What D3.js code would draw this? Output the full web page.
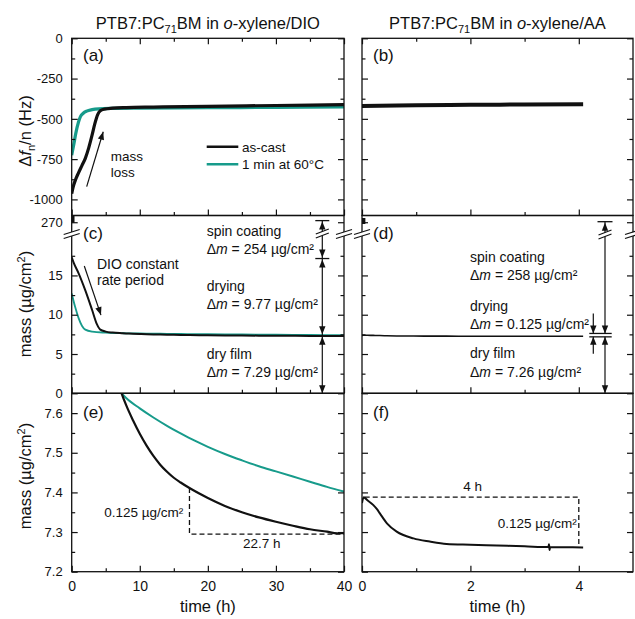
<!DOCTYPE html>
<html><head><meta charset="utf-8">
<script src="https://cdn.jsdelivr.net/npm/d3@7"></script>
<style>
body{margin:0;background:#fff}
text{font-family:"Liberation Sans",Arial,Helvetica,sans-serif;fill:#111}
</style></head>
<body><svg id="chart" width="635" height="619"></svg>
<script>
// ---------------- DATA ----------------
// (a) QCM frequency shift, DIO system (t in h, Δf/n in Hz)
const qcmDioAsCast = [[0,-965],[0.2,-925],[0.5,-885],[1,-835],[1.5,-790],[2,-745],[2.5,-680],[3,-600],[3.4,-530],[3.8,-475],[4.2,-450],[4.8,-440],[6,-434],[8,-430],[12,-427],[20,-422],[30,-417],[40,-412]];
const qcmDio60C = [[0,-725],[0.3,-660],[0.6,-590],[1,-520],[1.3,-485],[1.7,-465],[2.2,-452],[3,-443],[4,-438],[6,-435],[10,-433],[20,-431],[30,-429],[40,-426]];
// (b) QCM frequency shift, AA system
const qcmAA = [[0,-420],[1,-416],[2,-413],[3,-411],[4.08,-409]];
// (c)/(e) mass, DIO system (µg/cm²)
const massDioAsCast = [[0,17.3],[0.3,16.6],[1,15.3],[2,13.1],[3,10.6],[3.7,8.8],[4.2,8.1],[5,7.85],[6,7.73],[7.33,7.65],[8,7.62],[9,7.582],[10,7.548],[11,7.518],[12,7.492],[13,7.47],[14,7.452],[15,7.437],[16,7.425],[17.3,7.411],[20,7.386],[22.5,7.366],[25,7.35],[27.5,7.337],[30,7.326],[32.5,7.316],[35,7.307],[37.5,7.301],[39,7.297],[40,7.297]];
const massDio60C = [[0,12.7],[0.5,11.0],[1,9.6],[1.5,8.6],[2,8.1],[3,7.85],[5,7.72],[7.33,7.65],[8,7.638],[10,7.612],[12,7.589],[14,7.568],[16,7.549],[18,7.531],[20,7.515],[22.5,7.497],[25,7.481],[27.5,7.466],[30,7.453],[32.5,7.44],[35,7.427],[37.5,7.414],[40,7.402]];
const spinDio = [[0.12,269.8],[0.12,272.4]];
// (d)/(f) mass, AA system
const massAA = [[0,7.373],[0.03,7.388],[0.1,7.38],[0.21,7.368],[0.28,7.357],[0.33,7.347],[0.46,7.322],[0.64,7.301],[0.95,7.284],[1.25,7.276],[1.56,7.27],[2,7.268],[2.49,7.266],[3,7.264],[3.44,7.262],[3.45,7.269],[3.46,7.255],[3.47,7.262],[4.08,7.261]];
const spinAA = [[0.03,269.3],[0.03,271.6]];
// annotation values
const dioSpinTop = 270.6, dioDryStart = 17.15, dioDryFilm = 7.4;
const aaSpinTop = 270.2, aaDryFilm = 7.4;
const dioDashV = [[17.3,7.411],[17.3,7.295],[40,7.295]];
const aaDash = [[0.05,7.388],[4.0,7.388],[4.0,7.261]];
// ticks
const yTicksA = [-1000,-750,-500,-250,0], yMinorA = [-875,-625,-375,-125];
const yTicksC = [0,5,10,15,270], yMinorC = [2.5,7.5,12.5,17.5];
const yTicksE = [7.2,7.3,7.4,7.5,7.6], yMinorE = [7.25,7.35,7.45,7.55];
const xTicksL = [0,10,20,30,40], xMinorL = [5,15,25,35];
const xTicksR = [0,2,4], xMinorR = [1,3];
const titles = ["o-xylene/DIO","o-xylene/AA"];

// ---------------- LAYOUT ----------------
const svg = d3.select("#chart");
const L = {x0:71.7, x1:344}, R = {x0:362, x1:633};
const rowA = {y0:38.3, y1:215.5}, rowC = {y0:215.5, y1:393.3}, rowE = {y0:393.3, y1:571.7};
const breakY = 233;
const teal = "#179b8b";
const FONT = '"Liberation Sans",Arial,Helvetica,sans-serif';

const xL = d3.scaleLinear().domain([0,40]).range([L.x0,L.x1]);
const xR = d3.scaleLinear().domain([0,5]).range([R.x0,R.x1]);
const yA = d3.scaleLinear().domain([-1100,0]).range([rowA.y1,rowA.y0]);
const yC = d3.scaleLinear().domain([0,20.4,266,272.5]).range([rowC.y1,breakY,breakY,rowC.y0]);
const yE = d3.scaleLinear().domain([7.2,7.65]).range([rowE.y1,rowE.y0]);

let clipId = 0;
function panel(x, y, col, row, yTicks, yMinor, yFmt, xTicks, xMinor){
  const id = "clip"+(clipId++);
  const [px0,px1] = x.range(); const py1 = y.range()[0], py0 = y.range()[y.range().length-1];
  svg.append("clipPath").attr("id",id).append("rect")
    .attr("x",px0).attr("y",py0).attr("width",px1-px0).attr("height",py1-py0);
  const g = svg.append("g").attr("clip-path",`url(#${id})`);
  const ax = svg.append("g").attr("class","axes");
  function addAxis(axisGen, tx, ty, vals, size, fmt){
    const a = ax.append("g").attr("transform",`translate(${tx},${ty})`)
      .call(axisGen.tickValues(vals).tickSizeInner(size).tickSizeOuter(0).tickPadding(9).tickFormat(fmt));
    a.select(".domain").remove();
    a.attr("font-size",13).attr("font-family",FONT);
    a.selectAll("line").attr("stroke","#111").attr("stroke-width",1.2);
    a.selectAll("text").attr("fill","#222");
    return a;
  }
  const none = () => "";
  addAxis(d3.axisLeft(y), px0, 0, yTicks, -6, col===0 ? yFmt : none);
  addAxis(d3.axisLeft(y), px0, 0, yMinor, -3.5, none);
  addAxis(d3.axisRight(y), px1, 0, yTicks, -6, none);
  addAxis(d3.axisRight(y), px1, 0, yMinor, -3.5, none);
  const bt = addAxis(d3.axisBottom(x), 0, py1, xTicks, -6, row===2 ? (d=>String(d)) : none);
  bt.selectAll("text").attr("font-size",14);
  addAxis(d3.axisBottom(x), 0, py1, xMinor, -3.5, none);
  if(row===0){
    addAxis(d3.axisTop(x), 0, py0, xTicks, -6, none);
    addAxis(d3.axisTop(x), 0, py0, xMinor, -3.5, none);
  }
  ax.append("rect").attr("x",px0).attr("y",py0).attr("width",px1-px0).attr("height",py1-py0)
    .attr("fill","none").attr("stroke","#111").attr("stroke-width",1.3);
  return g;
}
function line(g, x, y, data, color, w, dash, smooth){
  g.append("path").datum(data)
    .attr("d", d3.line().x(d=>x(d[0])).y(d=>y(d[1])).curve(smooth ? d3.curveMonotoneX : d3.curveLinear))
    .attr("fill","none").attr("stroke",color).attr("stroke-width",w)
    .attr("stroke-linejoin","round").attr("stroke-dasharray",dash||null);
}
const fmtInt = d => String(d);
const fmt1 = d3.format(".1f");

const gA = panel(xL, yA, 0, 0, yTicksA, yMinorA, fmtInt, xTicksL, xMinorL);
const gB = panel(xR, yA, 1, 0, yTicksA, yMinorA, fmtInt, xTicksR, xMinorR);
const gC = panel(xL, yC, 0, 1, yTicksC, yMinorC, fmtInt, xTicksL, xMinorL);
const gD = panel(xR, yC, 1, 1, yTicksC, yMinorC, fmtInt, xTicksR, xMinorR);
const gE = panel(xL, yE, 0, 2, yTicksE, yMinorE, fmt1, xTicksL, xMinorL);
const gF = panel(xR, yE, 1, 2, yTicksE, yMinorE, fmt1, xTicksR, xMinorR);

// series
line(gA, xL, yA, qcmDio60C, teal, 3.2, null, true);
line(gA, xL, yA, qcmDioAsCast, "#111", 3.2, null, true);
line(gB, xR, yA, qcmAA, "#111", 4, null, true);
line(gC, xL, yC, massDio60C, teal, 1.8, null, true);
line(gC, xL, yC, massDioAsCast, "#111", 2, null, true);
line(gC, xL, yC, spinDio, "#111", 4);
line(gD, xR, yC, massAA, "#111", 1.6, null, true);
line(gD, xR, yC, spinAA, "#111", 3.5);
line(gE, xL, yE, massDio60C, teal, 2, null, true);
line(gE, xL, yE, massDioAsCast, "#111", 2.2, null, true);
line(gE, xL, yE, dioDashV, "#111", 1.3, "5,3");
line(gF, xR, yE, massAA, "#111", 2, null, true);
line(gF, xR, yE, aaDash, "#111", 1.3, "5,3");

// ---------- helpers for annotations ----------
const ann = svg.append("g");
function seg(x1,y1,x2,y2,w){ ann.append("line").attr("x1",x1).attr("y1",y1).attr("x2",x2).attr("y2",y2).attr("stroke","#111").attr("stroke-width",w||1.2); }
function head(x,y,dir,len,wid){ // tip at (x,y)
  len = len||8; wid = wid||3.2; const s = dir==="up"?1:-1;
  ann.append("path").attr("d",`M${x},${y}L${x-wid},${y+s*len}L${x+wid},${y+s*len}Z`).attr("fill","#111");
}
function arrowTo(x1,y1,x2,y2){
  seg(x1,y1,x2,y2,1.2);
  const a = Math.atan2(y2-y1,x2-x1), l=8, w=3.2;
  const bx = x2-l*Math.cos(a), by = y2-l*Math.sin(a);
  const nx = -Math.sin(a)*w, ny = Math.cos(a)*w;
  ann.append("path").attr("d",`M${x2},${y2}L${bx+nx},${by+ny}L${bx-nx},${by-ny}Z`).attr("fill","#111");
}
function brk(x, y, hw){
  hw = hw||8;
  ann.append("path").attr("d",`M${x-hw},${y+1}L${x+hw},${y-4}L${x+hw},${y}L${x-hw},${y+5}Z`).attr("fill","#fff");
  seg(x-hw,y+1,x+hw,y-4,1.2);
  seg(x-hw,y+5,x+hw,y,1.2);
}
function txt(x,y,parts,size,anchor){
  const t = svg.append("text").attr("x",x).attr("y",y).attr("font-size",size).attr("text-anchor",anchor||"start");
  parts.forEach(p=>{
    const s = t.append("tspan").text(p.t);
    if(p.i) s.attr("font-style","italic");
    if(p.dy) s.attr("dy",p.dy);
    if(p.fs) s.attr("font-size",p.fs);
  });
  return t;
}

// axis breaks
[L.x0, L.x1, R.x0, R.x1].forEach(x=>brk(x, breakY+0.5, 8));

// (c) arrows
{
  const x = 322.3, yTop = yC(dioSpinTop), yS = yC(dioDryStart), yD = yC(dioDryFilm), y0 = yC(0);
  seg(x-7,yTop,x+7,yTop,1.3); seg(x,yTop,x,yS);
  head(x,yTop+1,"up"); head(x,yS-1,"down");
  seg(x-7,yS,x+7,yS,1.3);
  seg(x,yS,x,yD); head(x,yS+1,"up"); head(x,yD-1,"down");
  seg(x,yD,x,y0); head(x,yD+1.5,"up"); head(x,y0,"down");
  brk(x, breakY, 6.5);
}
// (d) arrows
{
  const x = 605, yTop = yC(aaSpinTop), yD = yC(aaDryFilm), y0 = yC(0);
  const yb1 = yD-1.7, yb2 = yD+1.7;
  seg(x-7.5,yTop,x+7.5,yTop,1.3); seg(x,yTop,x,yb1);
  head(x,yTop+1,"up"); head(x,yb1,"down");
  seg(589.3,yb1,611.7,yb1,1.3); seg(589.3,yb2,611.7,yb2,1.3);
  seg(x,yb2,x,y0); head(x,yb2,"up"); head(x,y0,"down");
  const xs = 593.3;
  seg(xs,yb1-20,xs,yb1); head(xs,yb1,"down");
  seg(xs,yb2,xs,yb2+17); head(xs,yb2,"up");
  brk(x, breakY+1, 6.5);
}
// (a) mass loss arrow, (c) DIO arrow
arrowTo(xL(2.2), yA(-921), xL(4.63), yA(-580));
arrowTo(xL(1.85), yC(16.2), xL(4.3), yC(9.95));

// legend (a)
seg(206.7,146.7,238.3,146.7,2.6);
ann.append("line").attr("x1",206.7).attr("y1",164.3).attr("x2",238.3).attr("y2",164.3).attr("stroke",teal).attr("stroke-width",2.6);
txt(242,151.5,[{t:"as-cast"}],13.5);
txt(242,169.3,[{t:"1 min at 60°C"}],13.5);
txt(110.7,160.5,[{t:"mass"}],13.5);
txt(110.7,177,[{t:"loss"}],13.5);

// (c) annotations
const dm = v => [{t:"Δ"},{t:"m",i:true},{t:` = ${v} µg/cm²`}];
txt(206.7,236,[{t:"spin coating"}],14);
txt(206.7,253.5,dm("254"),14);
txt(206.7,290.5,[{t:"drying"}],14);
txt(206.7,309,dm("9.77"),14);
txt(206.7,359,[{t:"dry film"}],14);
txt(206.7,376.7,dm("7.29"),14);
txt(97,268.5,[{t:"DIO constant"}],14);
txt(97,285,[{t:"rate period"}],14);
// (d) annotations
txt(470,261.5,[{t:"spin coating"}],14);
txt(470,280,dm("258"),14);
txt(470,310.5,[{t:"drying"}],14);
txt(470,329,dm("0.125"),14);
txt(470,358.3,[{t:"dry film"}],14);
txt(470,376.7,dm("7.26"),14);
// (e),(f)
txt(183.3,516.7,[{t:"0.125 µg/cm²"}],13.5,"end");
txt(261.7,548.3,[{t:"22.7 h"}],13.5,"middle");
txt(472.7,491,[{t:"4 h"}],13.5,"middle");
txt(576.7,528.3,[{t:"0.125 µg/cm²"}],13.5,"end");

// panel labels
[["(a)",83,61],["(b)",373,61],["(c)",83,239],["(d)",373,239],["(e)",83,418],["(f)",373,418]]
  .forEach(([s,x,y])=>txt(x,y,[{t:s}],17));

// titles
titles.forEach((t,i)=>{
  const cx = i===0 ? (L.x0+L.x1)/2 : (R.x0+R.x1)/2;
  const [a,b] = t.split("-");
  txt(cx,29.3,[{t:"PTB7:PC"},{t:"71",dy:4,fs:11},{t:"BM in ",dy:-4},{t:a,i:true},{t:"-"+b}],16.5,"middle");
});
// x titles
txt((L.x0+L.x1)/2,612,[{t:"time (h)"}],16.5,"middle");
txt((R.x0+R.x1)/2,612,[{t:"time (h)"}],16.5,"middle");
// y titles
function ytitle(cy, parts){
  const t = txt(0,0,parts,16.5,"middle");
  t.attr("transform",`translate(30.5,${cy}) rotate(-90)`);
}
ytitle(131,[{t:"Δ"},{t:"f",i:true},{t:"n",dy:4,fs:11},{t:"/n (Hz)",dy:-4}]);
ytitle(304,[{t:"mass (µg/cm"},{t:"2",dy:-6,fs:11},{t:")",dy:6}]);
ytitle(476,[{t:"mass (µg/cm"},{t:"2",dy:-6,fs:11},{t:")",dy:6}]);
</script>
</body></html>
